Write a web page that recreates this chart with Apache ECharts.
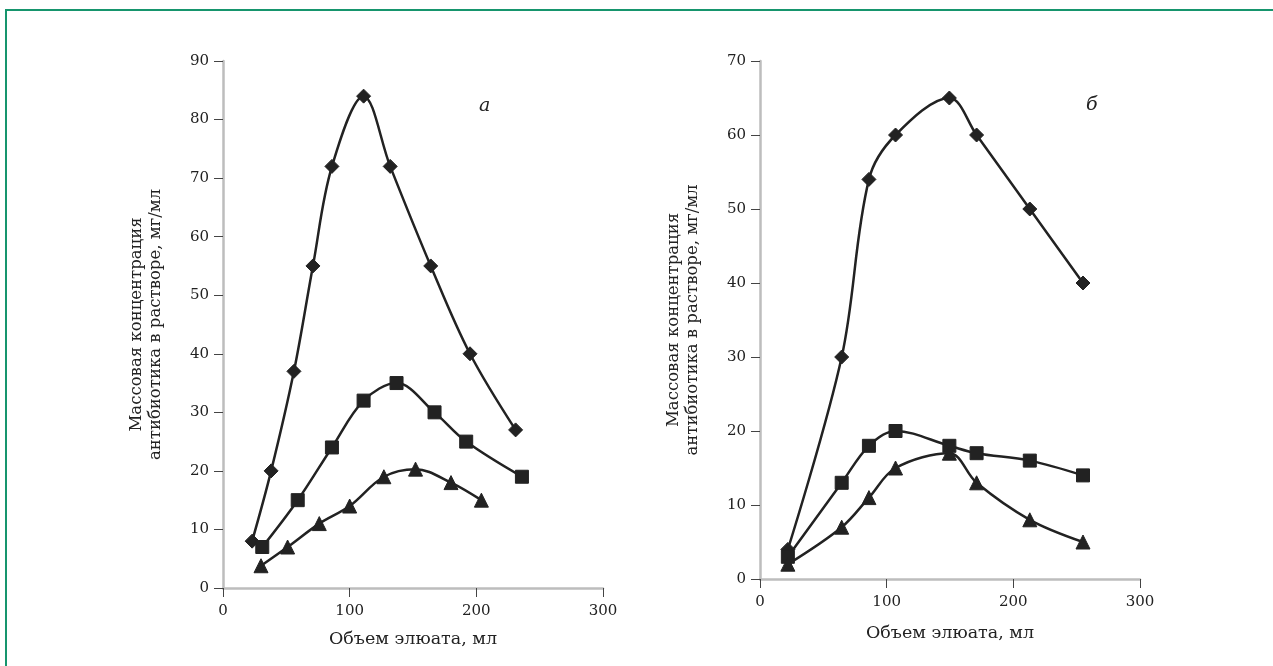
<!DOCTYPE html>
<html>
<head>
<meta charset="utf-8">
<script src="https://cdn.jsdelivr.net/npm/echarts@6/dist/echarts.min.js"></script>
<style>
  html, body { margin: 0; padding: 0; background: #fff; }
  #chart { width: 1273px; height: 666px; }
</style>
</head>
<body>
<div id="chart"></div>
<script>
// panel а
const volA_diamond = [23, 38, 56, 71, 86, 111, 132, 164, 195, 231];
const concA_diamond = [8, 20, 37, 55, 72, 84, 72, 55, 40, 27];
const volA_square = [31, 59, 86, 111, 137, 167, 192, 236];
const concA_square = [7, 15, 24, 32, 35, 30, 25, 19];
const volA_triangle = [30, 51, 76, 100, 127, 152, 180, 204];
const concA_triangle = [3.8, 7, 11, 14, 19, 20.3, 18, 15];

// panel б
const volB = [22, 64.5, 86, 107, 149.5, 171, 213, 255];
const concB_diamond = [4, 30, 54, 60, 65, 60, 50, 40];
const concB_square = [3, 13, 18, 20, 18, 17, 16, 14];
const concB_triangle = [2, 7, 11, 15, 17, 13, 8, 5];

const xName = 'Объем элюата, мл';
const yName = 'Массовая концентрация\nантибиотика в растворе, мг/мл';
const panelLabels = ['а', 'б'];

const font = 'DejaVu Serif';
const ink = '#222';

function pairs(xs, ys) {
    return xs.map((x, i) => [x, ys[i]]);
}

function xAxis(gridIndex, gap) {
    return {
        type: 'value', gridIndex, min: 0, max: 300, interval: 100,
        name: xName, nameLocation: 'middle', nameGap: gap,
        nameTextStyle: { fontFamily: font, fontSize: 17.5, color: ink },
        axisLine: { lineStyle: { color: '#bdbdbd', width: 2.5 } },
        axisTick: { length: 9, lineStyle: { color: '#444', width: 1 } },
        axisLabel: { fontFamily: font, fontSize: 15, color: ink, margin: 16 },
        splitLine: { show: false }
    };
}

function yAxis(gridIndex, max) {
    return {
        type: 'value', gridIndex, min: 0, max, interval: 10,
        name: yName, nameLocation: 'middle', nameGap: 58,
        nameTextStyle: { fontFamily: font, fontSize: 16.5, color: ink, lineHeight: 19 },
        axisLine: { show: true, lineStyle: { color: '#bdbdbd', width: 2.5 } },
        axisTick: { show: true, length: 9, lineStyle: { color: '#444', width: 1 } },
        axisLabel: { fontFamily: font, fontSize: 15, color: ink, margin: 14 },
        splitLine: { show: false }
    };
}

function line(idx, data, symbol, size) {
    return {
        type: 'line', xAxisIndex: idx, yAxisIndex: idx, data,
        smooth: 0.35, symbol, symbolSize: size,
        lineStyle: { color: ink, width: 2.5 },
        itemStyle: { color: ink, borderColor: ink },
        z: 3
    };
}

const chart = echarts.init(document.getElementById('chart'));
chart.setOption({
    animation: false,
    backgroundColor: '#fff',
    grid: [
        { left: 223, top: 61, width: 380, height: 527 },
        { left: 760, top: 61, width: 380, height: 518 }
    ],
    xAxis: [xAxis(0, 42), xAxis(1, 45)],
    yAxis: [yAxis(0, 90), yAxis(1, 70)],
    series: [
        line(0, pairs(volA_diamond, concA_diamond), 'diamond', 14),
        line(0, pairs(volA_square, concA_square), 'rect', 13),
        line(0, pairs(volA_triangle, concA_triangle), 'triangle', 14),
        line(1, pairs(volB, concB_diamond), 'diamond', 14),
        line(1, pairs(volB, concB_square), 'rect', 13),
        line(1, pairs(volB, concB_triangle), 'triangle', 14)
    ],
    graphic: [
        {
            type: 'polyline', silent: true,
            shape: { points: [[1273, 10], [6, 10], [6, 666]] },
            style: { stroke: '#16956d', lineWidth: 2, fill: null }
        },
        {
            type: 'text', left: 479, top: 97,
            style: { text: panelLabels[0], font: 'italic 19px "DejaVu Serif"', fill: ink }
        },
        {
            type: 'text', left: 1086, top: 96,
            style: { text: panelLabels[1], font: 'italic 19px "DejaVu Serif"', fill: ink }
        }
    ]
});
</script>
</body>
</html>
